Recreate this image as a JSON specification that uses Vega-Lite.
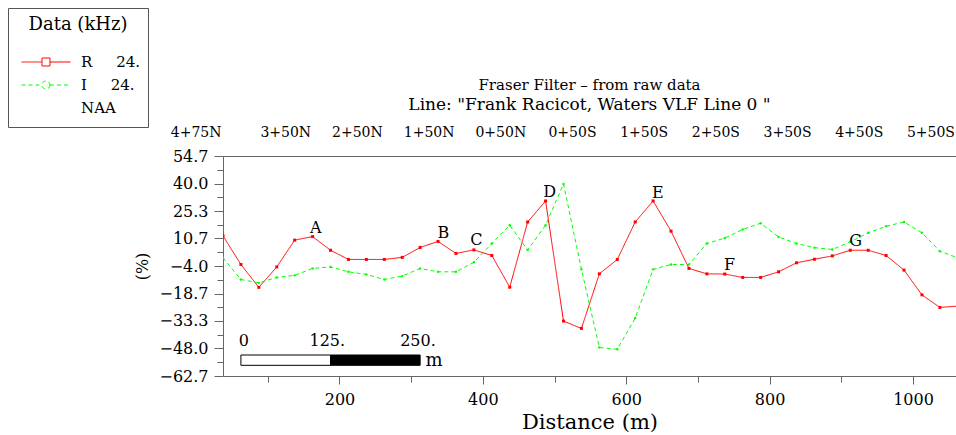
{
  "$schema": "https://vega.github.io/schema/vega-lite/v6.json",
  "width": 733,
  "height": 220,
  "autosize": {"type": "none"},
  "padding": {"left": 223, "top": 156, "right": 0, "bottom": 59},
  "background": "white",
  "title": {
    "text": "Fraser Filter – from raw data",
    "subtitle": "Line: \"Frank Racicot, Waters VLF Line 0 \"",
    "font": "DejaVu Serif",
    "fontSize": 15,
    "fontWeight": "normal",
    "color": "#000",
    "subtitleFont": "DejaVu Serif",
    "subtitleFontSize": 17,
    "subtitleColor": "#000",
    "subtitlePadding": 4,
    "frame": "group",
    "anchor": "middle",
    "offset": -105
  },
  "datasets": {
    "vlf": [
      {"d": 37.5, "s": "R", "v": 12.1}, {"d": 62.5, "s": "R", "v": -3.2}, {"d": 87.5, "s": "R", "v": -15.4},
      {"d": 112.5, "s": "R", "v": -4.5}, {"d": 137.5, "s": "R", "v": 9.8}, {"d": 162.5, "s": "R", "v": 11.7},
      {"d": 187.5, "s": "R", "v": 4.4}, {"d": 212.5, "s": "R", "v": -0.5}, {"d": 237.5, "s": "R", "v": -0.5},
      {"d": 262.5, "s": "R", "v": -0.5}, {"d": 287.5, "s": "R", "v": 0.6}, {"d": 312.5, "s": "R", "v": 5.9},
      {"d": 337.5, "s": "R", "v": 9.1}, {"d": 362.5, "s": "R", "v": 2.7}, {"d": 387.5, "s": "R", "v": 4.6},
      {"d": 412.5, "s": "R", "v": 1.6}, {"d": 437.5, "s": "R", "v": -15.3}, {"d": 462.5, "s": "R", "v": 19.5},
      {"d": 487.5, "s": "R", "v": 30.7}, {"d": 512.5, "s": "R", "v": -33.4}, {"d": 537.5, "s": "R", "v": -37.3},
      {"d": 562.5, "s": "R", "v": -8.2}, {"d": 587.5, "s": "R", "v": -0.5}, {"d": 612.5, "s": "R", "v": 19.5},
      {"d": 637.5, "s": "R", "v": 30.7}, {"d": 662.5, "s": "R", "v": 14.6}, {"d": 687.5, "s": "R", "v": -5.3},
      {"d": 712.5, "s": "R", "v": -8.2}, {"d": 737.5, "s": "R", "v": -8.3}, {"d": 762.5, "s": "R", "v": -10.1},
      {"d": 787.5, "s": "R", "v": -10.1}, {"d": 812.5, "s": "R", "v": -7.1}, {"d": 837.5, "s": "R", "v": -2.3},
      {"d": 862.5, "s": "R", "v": -0.4}, {"d": 887.5, "s": "R", "v": 1.4}, {"d": 912.5, "s": "R", "v": 4.4},
      {"d": 937.5, "s": "R", "v": 4.4}, {"d": 962.5, "s": "R", "v": 1.6}, {"d": 987.5, "s": "R", "v": -6.2},
      {"d": 1012.5, "s": "R", "v": -19.4}, {"d": 1037.5, "s": "R", "v": -26.1}, {"d": 1062.5, "s": "R", "v": -25.4},
      {"d": 37.5, "s": "I", "v": 0.4}, {"d": 62.5, "s": "I", "v": -11.2}, {"d": 87.5, "s": "I", "v": -13.0},
      {"d": 112.5, "s": "I", "v": -10.1}, {"d": 137.5, "s": "I", "v": -9.0}, {"d": 162.5, "s": "I", "v": -5.3},
      {"d": 187.5, "s": "I", "v": -4.5}, {"d": 212.5, "s": "I", "v": -7.1}, {"d": 237.5, "s": "I", "v": -8.5},
      {"d": 262.5, "s": "I", "v": -11.2}, {"d": 287.5, "s": "I", "v": -9.4}, {"d": 312.5, "s": "I", "v": -5.3},
      {"d": 337.5, "s": "I", "v": -7.1}, {"d": 362.5, "s": "I", "v": -7.1}, {"d": 387.5, "s": "I", "v": -2.0},
      {"d": 412.5, "s": "I", "v": 8.0}, {"d": 437.5, "s": "I", "v": 17.7}, {"d": 462.5, "s": "I", "v": 4.6},
      {"d": 487.5, "s": "I", "v": 17.7}, {"d": 512.5, "s": "I", "v": 39.8}, {"d": 537.5, "s": "I", "v": -5.8},
      {"d": 562.5, "s": "I", "v": -47.5}, {"d": 587.5, "s": "I", "v": -48.4}, {"d": 612.5, "s": "I", "v": -31.8},
      {"d": 637.5, "s": "I", "v": -5.8}, {"d": 662.5, "s": "I", "v": -3.2}, {"d": 687.5, "s": "I", "v": -3.2},
      {"d": 712.5, "s": "I", "v": 8.0}, {"d": 737.5, "s": "I", "v": 10.9}, {"d": 762.5, "s": "I", "v": 15.5},
      {"d": 787.5, "s": "I", "v": 18.8}, {"d": 812.5, "s": "I", "v": 11.5}, {"d": 837.5, "s": "I", "v": 8.0},
      {"d": 862.5, "s": "I", "v": 5.8}, {"d": 887.5, "s": "I", "v": 4.8}, {"d": 912.5, "s": "I", "v": 8.9},
      {"d": 937.5, "s": "I", "v": 13.7}, {"d": 962.5, "s": "I", "v": 17.2}, {"d": 987.5, "s": "I", "v": 19.5},
      {"d": 1012.5, "s": "I", "v": 13.7}, {"d": 1037.5, "s": "I", "v": 3.9}, {"d": 1062.5, "s": "I", "v": 0.3}
    ],
    "peaks": [
      {"d": 167, "v": 16.5, "t": "A"}, {"d": 345, "v": 13.7, "t": "B"}, {"d": 391, "v": 9.8, "t": "C"},
      {"d": 493, "v": 35.5, "t": "D"}, {"d": 644, "v": 35.0, "t": "E"}, {"d": 744, "v": -3.5, "t": "F"},
      {"d": 920, "v": 9.4, "t": "G"}
    ],
    "stations": [
      {"d": 0, "t": "4+75N"}, {"d": 125, "t": "3+50N"}, {"d": 225, "t": "2+50N"}, {"d": 325, "t": "1+50N"},
      {"d": 425, "t": "0+50N"}, {"d": 525, "t": "0+50S"}, {"d": 625, "t": "1+50S"}, {"d": 725, "t": "2+50S"},
      {"d": 825, "t": "3+50S"}, {"d": 925, "t": "4+50S"}, {"d": 1025, "t": "5+50S"}
    ],
    "bar": [
      {"a": 62.5, "b": 187.5, "seg": "w"}, {"a": 187.5, "b": 312.5, "seg": "k"}
    ],
    "barlabels": [
      {"a": 66.5, "t": "0"}, {"a": 183, "t": "125."}, {"a": 309.5, "t": "250."}
    ],
    "unit": [{"a": 320, "t": "m"}]
  },
  "resolve": {"axis": {"x": "independent", "y": "independent"}},
  "layer": [
    {
      "mark": {"type": "rule", "color": "#555", "strokeWidth": 1.5},
      "encoding": {
        "y": {
          "datum": 0, "type": "quantitative",
          "axis": {"orient": "left", "values": [47.35, 32.65, 18, 3.35, -11.35, -26, -40.65, -55.35], "labels": false, "domain": false, "ticks": true, "tickSize": 6, "title": null, "grid": false}
        }
      }
    },
    {
      "data": {"name": "vlf"},
      "mark": {"type": "line", "strokeWidth": 1, "clip": true},
      "encoding": {
        "x": {
          "field": "d", "type": "quantitative",
          "scale": {"domain": [37.5, 1060], "nice": false, "zero": false},
          "axis": {"orient": "bottom", "values": [200, 400, 600, 800, 1000], "format": "d", "tickSize": 8, "labelPadding": 7, "labelFontSize": 16, "title": "Distance (m)", "titleFontSize": 21, "titlePadding": 4, "grid": false}
        },
        "y": {
          "field": "v", "type": "quantitative",
          "scale": {"domain": [-62.7, 54.7], "nice": false, "zero": false},
          "axis": {"orient": "left", "values": [54.7, 40.0, 25.3, 10.7, -4.0, -18.7, -33.3, -48.0, -62.7], "format": ".1f", "tickSize": 9, "labelPadding": 6, "labelFontSize": 16, "title": "(%)", "titleFontSize": 16, "titlePadding": 8, "grid": false}
        },
        "color": {
          "field": "s", "type": "nominal",
          "scale": {"domain": ["R", "I", "NAA"], "range": ["#ff0000", "#00ff00", "rgba(255,255,255,0)"]},
          "legend": {
            "title": "Data (kHz)",
            "orient": "none",
            "legendX": -215,
            "legendY": -148,
            "padding": 8,
            "strokeColor": "#555",
            "fillColor": "white",
            "titleFont": "DejaVu Serif",
            "titleFontSize": 18,
            "titleFontWeight": "normal",
            "titleColor": "#000",
            "titleAnchor": "middle",
            "titlePadding": 17,
            "labelFont": "DejaVu Serif",
            "labelFontSize": 15,
            "labelColor": "#000",
            "labelOffset": 10,
            "symbolSize": 2401,
            "symbolOffset": 5,
            "symbolStrokeWidth": 1,
            "symbolFillColor": "transparent",
            "clipHeight": 22,
            "rowPadding": 1,
            "labelExpr": "datum.value === 'NAA' ? 'NAA' : datum.value + '\u00a0\u00a0\u00a0\u00a0\u00a024.'"
          }
        },
        "strokeDash": {
          "field": "s", "type": "nominal",
          "scale": {"domain": ["R", "I", "NAA"], "range": [[1, 0], [4, 3], [1, 0]]}
        }
      }
    },
    {
      "data": {"name": "vlf"},
      "mark": {"type": "point", "filled": false, "opacity": 0, "size": 4},
      "encoding": {
        "x": {"field": "d", "type": "quantitative", "axis": null},
        "y": {"field": "v", "type": "quantitative", "axis": null},
        "color": {"field": "s", "type": "nominal"},
        "shape": {
          "field": "s", "type": "nominal",
          "scale": {
            "domain": ["R", "I", "NAA"],
            "range": [
              "M-1,0H-0.163M0.163,0H1M-0.163,-0.163H0.163V0.163H-0.163Z",
              "M-1,0H-0.163M0.163,0H1M0.163,0A0.163,0.163 0 1,1 -0.163,0A0.163,0.163 0 1,1 0.163,0",
              "M0,0h0.001"
            ]
          }
        }
      }
    },
    {
      "data": {"name": "vlf"},
      "transform": [{"filter": "datum.s === 'R'"}],
      "mark": {"type": "point", "filled": true, "shape": "square", "size": 9, "color": "#ff0000", "opacity": 1, "clip": true},
      "encoding": {
        "x": {"field": "d", "type": "quantitative", "axis": null},
        "y": {"field": "v", "type": "quantitative", "axis": null}
      }
    },
    {
      "data": {"name": "vlf"},
      "transform": [{"filter": "datum.s === 'I'"}],
      "mark": {"type": "point", "filled": true, "shape": "circle", "size": 6, "color": "#00ff00", "opacity": 1, "clip": true},
      "encoding": {
        "x": {"field": "d", "type": "quantitative", "axis": null},
        "y": {"field": "v", "type": "quantitative", "axis": null}
      }
    },
    {
      "data": {"name": "peaks"},
      "mark": {"type": "text", "font": "DejaVu Serif", "fontSize": 16, "align": "center", "baseline": "middle", "color": "#000"},
      "encoding": {
        "x": {
          "field": "d", "type": "quantitative",
          "axis": {"orient": "bottom", "values": [100, 300, 500, 700, 900], "labels": false, "domain": false, "tickSize": 6, "title": null, "grid": false}
        },
        "y": {"field": "v", "type": "quantitative", "axis": null},
        "text": {"field": "t"}
      }
    },
    {
      "data": {"name": "stations"},
      "mark": {"type": "text", "font": "DejaVu Serif", "fontSize": 14, "align": "center", "baseline": "middle", "color": "#000", "clip": false},
      "encoding": {
        "x": {
          "field": "d", "type": "quantitative",
          "axis": {"orient": "top", "labels": false, "ticks": false, "domain": true, "title": null, "grid": false}
        },
        "y": {"datum": 66.8, "type": "quantitative", "axis": null},
        "text": {"field": "t"}
      }
    },
    {
      "data": {"name": "bar"},
      "mark": {"type": "rect", "stroke": "#000", "strokeWidth": 1},
      "encoding": {
        "x": {"field": "a", "type": "quantitative", "axis": null},
        "x2": {"field": "b"},
        "y": {"datum": -51.5, "type": "quantitative", "axis": null},
        "y2": {"datum": -57},
        "fill": {"field": "seg", "type": "nominal", "scale": {"domain": ["w", "k"], "range": ["#ffffff", "#000000"]}, "legend": null}
      }
    },
    {
      "data": {"name": "barlabels"},
      "mark": {"type": "text", "font": "DejaVu Serif", "fontSize": 16, "align": "center", "baseline": "middle", "color": "#000"},
      "encoding": {
        "x": {"field": "a", "type": "quantitative", "axis": null},
        "y": {"datum": -44, "type": "quantitative", "axis": null},
        "text": {"field": "t"}
      }
    },
    {
      "data": {"name": "unit"},
      "mark": {"type": "text", "font": "DejaVu Serif", "fontSize": 18, "align": "left", "baseline": "alphabetic", "color": "#000"},
      "encoding": {
        "x": {"field": "a", "type": "quantitative", "axis": null},
        "y": {"datum": -57.4, "type": "quantitative", "axis": null},
        "text": {"field": "t"}
      }
    }
  ],
  "config": {
    "font": "DejaVu Serif",
    "view": {"stroke": null},
    "axis": {
      "labelFont": "DejaVu Serif",
      "titleFont": "DejaVu Serif",
      "labelColor": "#000",
      "titleColor": "#000",
      "titleFontWeight": "normal",
      "domainColor": "#666",
      "tickColor": "#666",
      "grid": false
    }
  }
}
